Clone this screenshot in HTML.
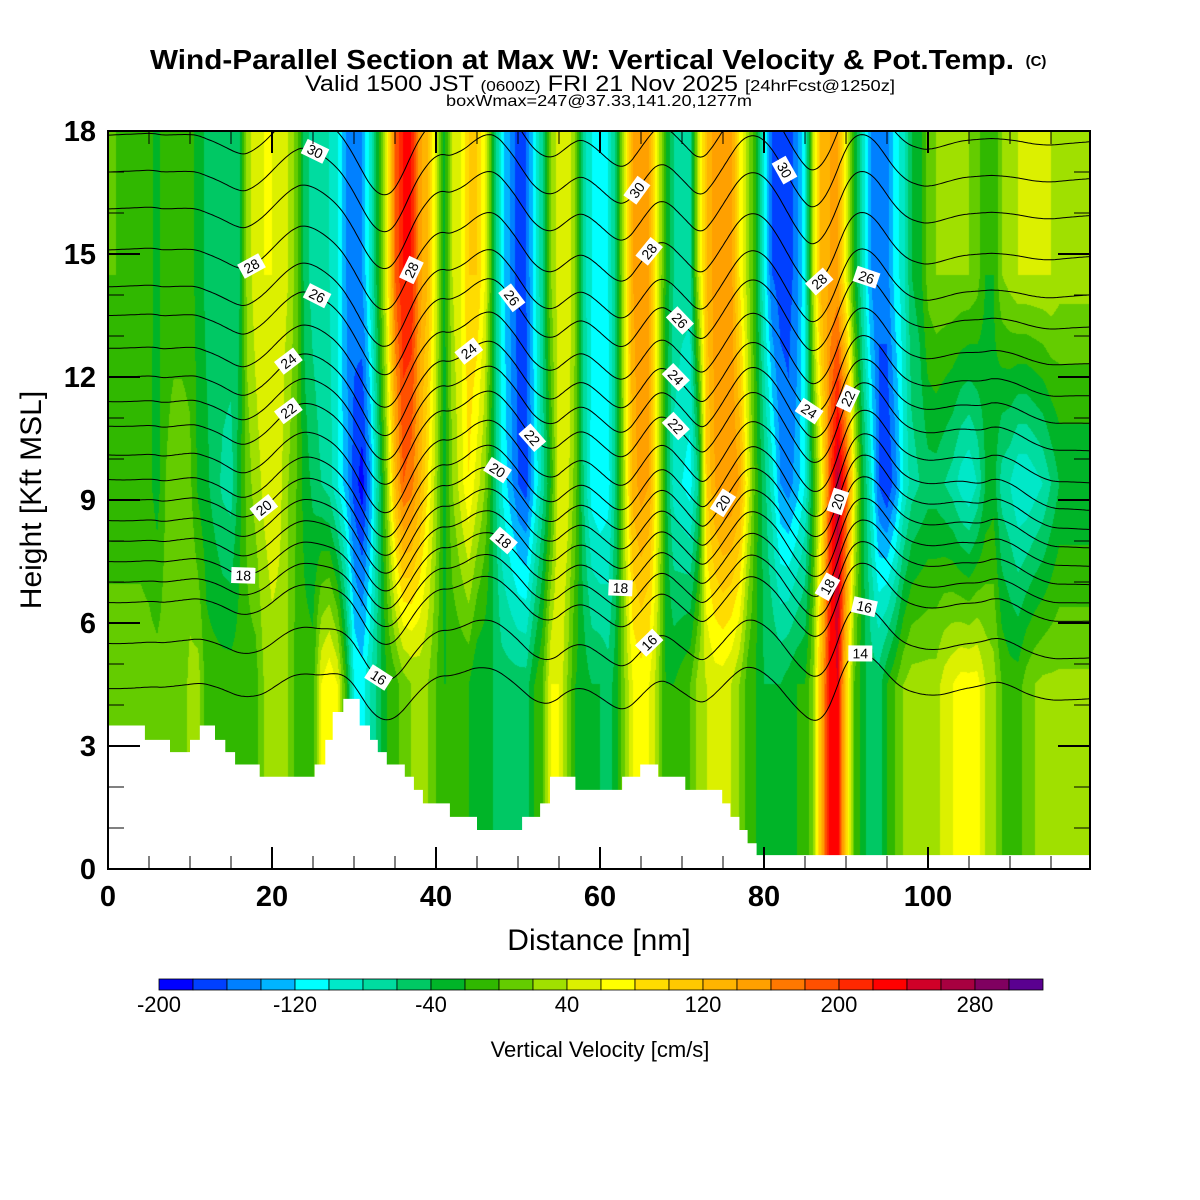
<!DOCTYPE html>
<html><head><meta charset="utf-8">
<style>
html,body{margin:0;padding:0;background:#fff;}
#wrap{position:relative;width:1200px;height:1200px;overflow:hidden;background:#fff;font-family:"Liberation Sans",sans-serif;}
#field{position:absolute;left:108px;top:131px;}
#ov{position:absolute;left:0;top:0;}
</style></head>
<body>
<div id="wrap">
<canvas id="field" width="982" height="738"></canvas>
<svg id="ov" width="1200" height="1200" xmlns="http://www.w3.org/2000/svg">
<defs><clipPath id="plotclip"><rect x="108" y="131" width="982" height="738"/></clipPath></defs>
<g id="contours" clip-path="url(#plotclip)"></g>
<g id="terrain"></g>
<g id="clabels"></g>
<rect x="108" y="131" width="982" height="738" fill="none" stroke="#000" stroke-width="2"/>
<g id="ticks"></g>
<g id="xlabels" font-size="29" font-weight="bold" text-anchor="middle" font-family="Liberation Sans, sans-serif"></g>
<g id="ylabels" font-size="29" font-weight="bold" text-anchor="end" font-family="Liberation Sans, sans-serif"></g>
<text x="582" y="69" font-size="28" font-weight="bold" textLength="864" lengthAdjust="spacingAndGlyphs" text-anchor="middle">Wind-Parallel Section at Max W: Vertical Velocity &amp; Pot.Temp.</text>
<text x="1036" y="66" font-size="15" font-weight="bold" text-anchor="middle">(C)</text>
<text x="600" y="91" font-size="22" text-anchor="middle" textLength="590" lengthAdjust="spacingAndGlyphs">Valid 1500 JST <tspan font-size="15">(0600Z)</tspan> FRI 21 Nov 2025 <tspan font-size="16">[24hrFcst@1250z]</tspan></text>
<text x="599" y="106" font-size="16" text-anchor="middle" textLength="306" lengthAdjust="spacingAndGlyphs">boxWmax=247@37.33,141.20,1277m</text>
<text x="599" y="950" font-size="30" text-anchor="middle">Distance [nm]</text>
<text x="0" y="0" font-size="30" text-anchor="middle" transform="translate(41,500) rotate(-90)">Height [Kft MSL]</text>
<g id="cbar"></g>
<g id="cbarlabels" font-size="22" text-anchor="middle"></g>
<text x="600" y="1057" font-size="22" text-anchor="middle">Vertical Velocity [cm/s]</text>
</svg>
</div>
<script>
// ---------- data ----------
const colorLevels = [-200,-180,-160,-140,-120,-100,-80,-60,-40,-20,0,20,40,60,80,100,120,140,160,180,200,220,240,260,280,300];
const colorPalette = ["#0000ff","#0040ff","#0080ff","#00b4ff","#00ffff","#00e8c8","#00dca0","#00c864","#00b428","#30b800","#64cc00","#a0e000","#dcf000","#ffff00","#ffdc00","#ffc800","#ffb400","#ffa000","#ff7800","#ff5000","#ff2800","#ff0000","#d00028","#a80040","#800060","#5a0090"];
const colorbarLabels = [-200,-120,-40,40,120,200,280];
const xTickLabels = [0,20,40,60,80,100];
const yTickLabels = [0,3,6,9,12,15,18];
// profile sample heights (kft)
const profileHeights = [4.5, 9.4, 14.5];
// w (cm/s) per 1 nm, 0..120 nm
const wLower = [10,10,10,10,10,10,10,10,10,10,
 25,30,-10,-10,-10,-10,-10,-10,-10,20,
 30,30,20,-10,-10,-10,60,80,60,-10,
 -100,-110,-80,-50,-20,-10,10,20,25,20,
 0,-20,-20,-20,-20,-40,-40,-40,-50,-50,
 -50,-50,-20,0,60,60,20,-20,-30,-40,
 -40,-50,-30,20,60,70,60,30,-20,-20,
 -10,0,30,40,50,50,40,20,-10,-20,
 -40,-40,-40,-30,-20,-20,20,130,230,240,
 100,0,-30,-50,-50,-20,0,20,30,30,
 30,30,50,60,70,70,70,40,30,0,
 -10,-10,10,20,25,25,25,25,25,25,
 25];
const wMid = [-10,-10,-10,-10,-10,-15,-30,0,10,10,
 5,-25,-35,-50,-65,-70,-30,10,30,45,
 55,45,20,0,-30,-45,-60,-70,-100,-130,
 -170,-190,-140,-60,20,120,180,170,130,80,
 30,-30,20,50,80,50,20,-40,-100,-130,
 -160,-170,-120,-70,-20,60,50,10,-60,-110,
 -120,-110,-50,40,130,150,140,60,-30,-90,
 -100,-110,-60,100,140,160,160,140,60,-10,
 -50,-90,-140,-150,-130,-100,-20,60,190,270,
 200,60,-30,-90,-160,-180,-150,-100,-70,-60,
 -50,-50,-60,-70,-90,-100,-80,-40,-30,-70,
 -80,-100,-100,-90,-80,-60,-40,-40,-40,-40,
 -40];
const wUpper = [0,0,-5,-10,-10,-15,-25,-10,-10,-10,
 -10,-30,-45,-45,-45,-45,-45,30,50,60,
 60,55,40,10,-50,-70,-80,-80,-100,-140,
 -150,-140,-90,-20,60,180,220,220,150,120,
 50,-30,40,60,100,100,60,-30,-110,-140,
 -170,-160,-110,-60,20,50,60,20,-70,-100,
 -110,-100,-50,50,140,150,140,60,-20,-60,
 -70,-70,40,120,150,150,150,80,30,-20,
 -100,-160,-170,-170,-150,-100,40,130,140,140,
 60,-20,-80,-140,-160,-150,-110,-90,-40,-30,
 10,20,20,20,20,20,10,-20,-20,20,
 30,40,40,40,40,40,30,30,30,30,
 30];
// terrain: step start (nm) and height (kft)
const terrainX = [0,4.5,7.56,10,11.2,13.05,14.3,15.5,18.5,25.2,26.5,27.4,28.7,30.7,31.95,32.9,34,36.2,37.3,38.4,41.7,45,50.5,52.7,53.9,57,62.7,64.9,67.1,70.4,74.9,75.9,77,78,79.1];
const terrainH = [3.5,3.15,2.85,3.15,3.5,3.15,2.85,2.55,2.25,2.55,3.15,3.83,4.15,3.5,3.15,2.85,2.55,2.25,1.93,1.6,1.27,0.95,1.27,1.6,2.25,1.93,2.25,2.55,2.25,1.93,1.6,1.27,0.95,0.63,0.34];
// theta contours: value and starting height at left edge (kft)
const thetaValues = [31,30,29,28,27,26,25,24,23,22,21.5,21,20,19.5,19,18,17.5,17,16,14];
const thetaStartH = [17.9,17.0,16.1,15.1,14.2,13.5,12.7,12.0,11.4,10.8,10.1,9.5,9.0,8.5,8.0,7.5,7.0,6.5,5.5,4.4];
// contour labels: position (nm) and theta
const labelX = [25.3,17.5,25.6,22,22,19,16.4,33,37,49.2,44,51.8,47.4,48.3,64.5,66,69.8,69.2,69.3,74.9,62.5,66,82.4,86.8,92.5,85.6,90.2,89,87.8,92.3,91.7];
const labelTheta = [30,28,26,24,22,20,18,16,28,26,24,22,20,18,30,28,26,24,22,20,18,16,30,28,26,24,22,20,18,16,14];

// ---------- scales ----------
const PX0=108, PY1=869, PXW=982, PYH=738, PXNM=8.2, PYK=41;
const xs = nm => PX0 + nm*PXNM;
const ys = h => PY1 - h*PYK;
const NS='http://www.w3.org/2000/svg';
function interpProfile(arr, nm){
  const i=Math.max(0,Math.min(arr.length-2,Math.floor(nm)));
  const f=Math.max(0,Math.min(1,nm-i));
  return arr[i]*(1-f)+arr[i+1]*f;
}
function wAt(nm,h){
  const a=interpProfile(wLower,nm), b=interpProfile(wMid,nm), c=interpProfile(wUpper,nm);
  const [h0,h1,h2]=profileHeights;
  if(h<=h0) return a;
  if(h<=h1){const t=(h-h0)/(h1-h0);return a*(1-t)+b*t;}
  if(h<=h2){const t=(h-h1)/(h2-h1);return b*(1-t)+c*t;}
  return c;
}
function hexToRgb(h){return [parseInt(h.substr(1,2),16),parseInt(h.substr(3,2),16),parseInt(h.substr(5,2),16)];}
const rgbPal = colorPalette.map(hexToRgb);
function colorIndex(w){
  let idx=0;
  for(let i=0;i<colorLevels.length;i++){ if(w>=colorLevels[i]) idx=i; }
  return idx;
}

// ---------- field ----------
const cv=document.getElementById('field');
const ctx=cv.getContext('2d');
const img=ctx.createImageData(PXW,PYH);
for(let px=0;px<PXW;px++){
  const nm=(px+0.5)/PXNM;
  for(let py=0;py<PYH;py++){
    const h=(PYH-py-0.5)/PYK;
    const c=rgbPal[colorIndex(wAt(nm,h))];
    const o=(py*PXW+px)*4;
    img.data[o]=c[0];img.data[o+1]=c[1];img.data[o+2]=c[2];img.data[o+3]=255;
  }
}
ctx.putImageData(img,0,0);

// ---------- contours ----------
const K=0.0022, DX=0.25, XMAX=PXW/PXNM, WIN=96; // WIN samples = 24 nm high-pass window
const contourG=document.getElementById('contours');
const linePts={};
thetaValues.forEach((th,li)=>{
  const h0=thetaStartH[li];
  let cum=0, cs=[], xsamp=[];
  for(let nm=0;nm<=XMAX+0.001;nm+=DX){
    cs.push(cum); xsamp.push(nm);
    cum += K*0.5*(wAt(nm,h0)+interpProfile(wMid,nm))*DX;
  }
  // remove large-scale drift with a moving average
  const n=cs.length, sm=[];
  for(let i=0;i<n;i++){
    let a=Math.max(0,i-WIN/2), b=Math.min(n-1,i+WIN/2), s=0;
    for(let j=a;j<=b;j++) s+=cs[j];
    sm.push(s/(b-a+1));
  }
  const off=cs[0]-sm[0];
  const pts=xsamp.map((x,i)=>[x,h0+(cs[i]-sm[i])-off*(1-i/(n-1))]);
  linePts[th]=pts;
  const p=document.createElementNS(NS,'polyline');
  p.setAttribute('points',pts.map(q=>xs(q[0]).toFixed(1)+','+ys(q[1]).toFixed(1)).join(' '));
  p.setAttribute('fill','none');p.setAttribute('stroke','#000');p.setAttribute('stroke-width','1');
  
  
  contourG.appendChild(p);
});

// ---------- terrain ----------
(function(){
  let d='M'+xs(0)+','+PY1;
  for(let i=0;i<terrainX.length;i++){
    const x0=xs(terrainX[i]);
    const x1=i+1<terrainX.length?xs(terrainX[i+1]):xs(XMAX);
    d+=' L'+x0.toFixed(1)+','+ys(terrainH[i]).toFixed(1)+' L'+x1.toFixed(1)+','+ys(terrainH[i]).toFixed(1);
  }
  d+=' L'+xs(XMAX)+','+PY1+' Z';
  const p=document.createElementNS(NS,'path');
  p.setAttribute('d',d);p.setAttribute('fill','#fff');
  
  
  document.getElementById('terrain').appendChild(p);
})();

// ---------- contour labels ----------
const lg=document.getElementById('clabels');
labelX.forEach((nm,i)=>{
  const pts=linePts[labelTheta[i]]; if(!pts) return;
  const k=Math.min(pts.length-3,Math.max(2,Math.round(nm/DX)));
  const x=xs(pts[k][0]), y=Math.max(142,ys(pts[k][1]));
  const dx=xs(pts[k+2][0])-xs(pts[k-2][0]), dy=ys(pts[k+2][1])-ys(pts[k-2][1]);
  let ang=Math.atan2(dy,dx)*180/Math.PI;
  const g=document.createElementNS(NS,'g');
  g.setAttribute('transform','translate('+x.toFixed(1)+','+y.toFixed(1)+') rotate('+ang.toFixed(1)+')');
  
  
  const r=document.createElementNS(NS,'rect');
  r.setAttribute('x',-12);r.setAttribute('y',-8);r.setAttribute('width',24);r.setAttribute('height',16);r.setAttribute('fill','#fff');
  g.appendChild(r);
  const t=document.createElementNS(NS,'text');
  t.setAttribute('x',0);t.setAttribute('y',5);t.setAttribute('font-size','14');t.setAttribute('text-anchor','middle');
  t.textContent=String(Math.round(labelTheta[i]));
  g.appendChild(t);
  lg.appendChild(g);
});

// ---------- ticks ----------
const tg=document.getElementById('ticks');
function line(x1,y1,x2,y2,w,name){
  const l=document.createElementNS(NS,'line');
  l.setAttribute('x1',x1);l.setAttribute('y1',y1);l.setAttribute('x2',x2);l.setAttribute('y2',y2);
  l.setAttribute('stroke','#000');l.setAttribute('stroke-width',w);
  
  
  tg.appendChild(l);
}
for(let nm=5;nm<XMAX;nm+=5){
  const major=nm%20===0, len=major?22:13, x=xs(nm);
  line(x,869,x,869-len,major?2:1,'x-tick');
  line(x,131,x,131+len,major?2:1,'x-tick-top');
}
for(let h=1;h<18;h++){
  const major=h%3===0, len=major?32:16, y=ys(h);
  line(108,y,108+len,y,major?2:1,'y-tick');
  line(1090,y,1090-len,y,major?2:1,'y-tick-right');
}
const xl=document.getElementById('xlabels');
xTickLabels.forEach(v=>{
  const t=document.createElementNS(NS,'text');
  t.setAttribute('x',xs(v));t.setAttribute('y',906);t.textContent=v;
  
  
  xl.appendChild(t);
});
const yl=document.getElementById('ylabels');
yTickLabels.forEach(v=>{
  const t=document.createElementNS(NS,'text');
  t.setAttribute('x',96);t.setAttribute('y',ys(v)+10);t.textContent=v;
  
  
  yl.appendChild(t);
});

// ---------- colorbar ----------
const cb=document.getElementById('cbar'), CBX=159, CBW=34, CBY=979, CBH=11;
colorPalette.forEach((c,i)=>{
  const r=document.createElementNS(NS,'rect');
  r.setAttribute('x',CBX+i*CBW);r.setAttribute('y',CBY);r.setAttribute('width',CBW);r.setAttribute('height',CBH);
  r.setAttribute('fill',c);r.setAttribute('stroke','#000');r.setAttribute('stroke-width','0.8');
  
  
  cb.appendChild(r);
});
const cl=document.getElementById('cbarlabels');
colorbarLabels.forEach(v=>{
  const i=colorLevels.indexOf(v);
  const t=document.createElementNS(NS,'text');
  t.setAttribute('x',CBX+i*CBW);t.setAttribute('y',1012);t.textContent=v;
  
  
  cl.appendChild(t);
});
</script>
</body></html>
